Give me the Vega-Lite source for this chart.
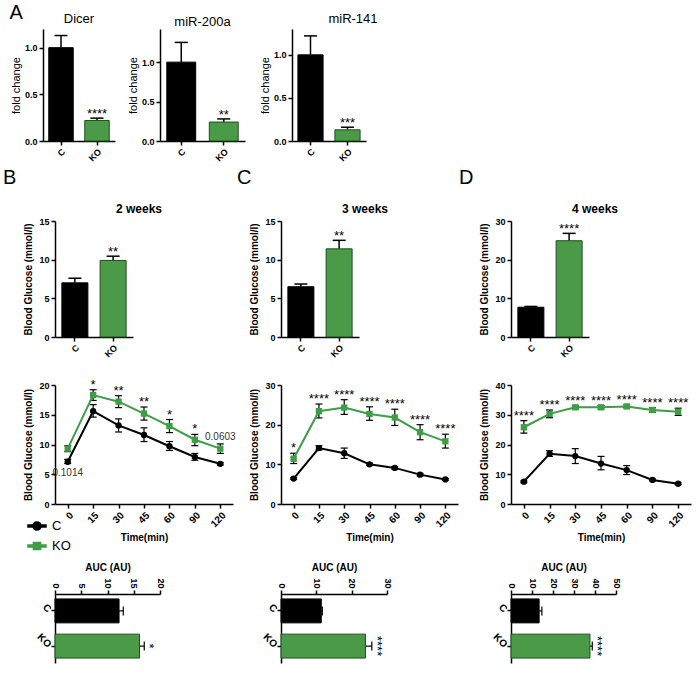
{
"$schema": "https://vega.github.io/schema/vega-lite/v6.json",
"padding": {"left": 2, "top": 2, "right": 2, "bottom": 2},
"datasets": {
"fold": [
{"gene":"Dicer","group":"C","value":1.0,"hi":1.13,"sig":""},
{"gene":"Dicer","group":"KO","value":0.22,"hi":0.245,"sig":"****"},
{"gene":"miR-200a","group":"C","value":1.0,"hi":1.25,"sig":""},
{"gene":"miR-200a","group":"KO","value":0.24,"hi":0.28,"sig":"**"},
{"gene":"miR-141","group":"C","value":1.0,"hi":1.22,"sig":""},
{"gene":"miR-141","group":"KO","value":0.13,"hi":0.16,"sig":"***"}
],
"bg": [
{"week":2,"group":"C","value":7.0,"hi":7.6,"sig":""},
{"week":2,"group":"KO","value":9.9,"hi":10.45,"sig":"**"},
{"week":3,"group":"C","value":6.5,"hi":6.85,"sig":""},
{"week":3,"group":"KO","value":11.4,"hi":12.5,"sig":"**"},
{"week":4,"group":"C","value":7.7,"hi":7.9,"sig":""},
{"week":4,"group":"KO","value":24.9,"hi":26.8,"sig":"****"}
],
"ogtt": [
{"week":2,"group":"KO","time":0,"mean":9.3,"lo":8.8,"hi":9.8,"sig":"","note":""},
{"week":2,"group":"KO","time":15,"mean":18.3,"lo":17.4,"hi":19.2,"sig":"*","note":""},
{"week":2,"group":"KO","time":30,"mean":17.2,"lo":16.2,"hi":18.2,"sig":"**","note":""},
{"week":2,"group":"KO","time":45,"mean":15.2,"lo":14.1,"hi":16.3,"sig":"**","note":""},
{"week":2,"group":"KO","time":60,"mean":13.1,"lo":12.0,"hi":14.2,"sig":"*","note":""},
{"week":2,"group":"KO","time":90,"mean":10.8,"lo":9.8,"hi":11.7,"sig":"*","note":""},
{"week":2,"group":"KO","time":120,"mean":9.3,"lo":8.5,"hi":10.1,"sig":"","note":"0.0603"},
{"week":2,"group":"C","time":0,"mean":7.1,"lo":6.8,"hi":7.5,"sig":"","note":"0.1014"},
{"week":2,"group":"C","time":15,"mean":15.6,"lo":14.6,"hi":16.7,"sig":"","note":""},
{"week":2,"group":"C","time":30,"mean":13.2,"lo":12.1,"hi":14.3,"sig":"","note":""},
{"week":2,"group":"C","time":45,"mean":11.6,"lo":10.5,"hi":12.8,"sig":"","note":""},
{"week":2,"group":"C","time":60,"mean":9.7,"lo":9.0,"hi":10.5,"sig":"","note":""},
{"week":2,"group":"C","time":90,"mean":7.9,"lo":7.35,"hi":8.5,"sig":"","note":""},
{"week":2,"group":"C","time":120,"mean":6.75,"lo":6.55,"hi":6.95,"sig":"","note":""},
{"week":3,"group":"KO","time":0,"mean":11.4,"lo":10.2,"hi":12.8,"sig":"*","note":""},
{"week":3,"group":"KO","time":15,"mean":23.4,"lo":21.7,"hi":25.2,"sig":"****","note":""},
{"week":3,"group":"KO","time":30,"mean":24.3,"lo":22.6,"hi":26.3,"sig":"****","note":""},
{"week":3,"group":"KO","time":45,"mean":22.7,"lo":21.1,"hi":24.5,"sig":"****","note":""},
{"week":3,"group":"KO","time":60,"mean":21.8,"lo":19.8,"hi":23.9,"sig":"****","note":""},
{"week":3,"group":"KO","time":90,"mean":18.1,"lo":16.2,"hi":20.0,"sig":"****","note":""},
{"week":3,"group":"KO","time":120,"mean":15.8,"lo":14.1,"hi":17.6,"sig":"****","note":""},
{"week":3,"group":"C","time":0,"mean":6.4,"lo":6.2,"hi":6.6,"sig":"","note":""},
{"week":3,"group":"C","time":15,"mean":14.1,"lo":13.6,"hi":14.7,"sig":"","note":""},
{"week":3,"group":"C","time":30,"mean":12.8,"lo":11.5,"hi":14.1,"sig":"","note":""},
{"week":3,"group":"C","time":45,"mean":10.0,"lo":9.7,"hi":10.3,"sig":"","note":""},
{"week":3,"group":"C","time":60,"mean":9.1,"lo":8.8,"hi":9.4,"sig":"","note":""},
{"week":3,"group":"C","time":90,"mean":7.4,"lo":7.1,"hi":7.7,"sig":"","note":""},
{"week":3,"group":"C","time":120,"mean":6.2,"lo":6.0,"hi":6.4,"sig":"","note":""},
{"week":4,"group":"KO","time":0,"mean":25.8,"lo":23.8,"hi":28.0,"sig":"****","note":""},
{"week":4,"group":"KO","time":15,"mean":30.3,"lo":29.0,"hi":31.6,"sig":"****","note":""},
{"week":4,"group":"KO","time":30,"mean":32.5,"lo":32.0,"hi":33.0,"sig":"****","note":""},
{"week":4,"group":"KO","time":45,"mean":32.5,"lo":31.9,"hi":33.1,"sig":"****","note":""},
{"week":4,"group":"KO","time":60,"mean":32.8,"lo":32.3,"hi":33.3,"sig":"****","note":""},
{"week":4,"group":"KO","time":90,"mean":31.6,"lo":30.8,"hi":32.4,"sig":"****","note":""},
{"week":4,"group":"KO","time":120,"mean":31.0,"lo":29.8,"hi":32.2,"sig":"****","note":""},
{"week":4,"group":"C","time":0,"mean":7.5,"lo":7.2,"hi":7.8,"sig":"","note":""},
{"week":4,"group":"C","time":15,"mean":16.9,"lo":16.0,"hi":17.9,"sig":"","note":""},
{"week":4,"group":"C","time":30,"mean":16.1,"lo":13.6,"hi":18.6,"sig":"","note":""},
{"week":4,"group":"C","time":45,"mean":13.6,"lo":11.5,"hi":16.0,"sig":"","note":""},
{"week":4,"group":"C","time":60,"mean":11.4,"lo":9.9,"hi":12.9,"sig":"","note":""},
{"week":4,"group":"C","time":90,"mean":8.1,"lo":7.8,"hi":8.4,"sig":"","note":""},
{"week":4,"group":"C","time":120,"mean":6.8,"lo":6.5,"hi":7.1,"sig":"","note":""}
],
"auc": [
{"week":2,"group":"C","value":12.2,"hi":13.0,"sig":""},
{"week":2,"group":"KO","value":16.1,"hi":17.0,"sig":"*"},
{"week":3,"group":"C","value":11.4,"hi":11.7,"sig":""},
{"week":3,"group":"KO","value":23.9,"hi":25.7,"sig":"****"},
{"week":4,"group":"C","value":13.4,"hi":14.7,"sig":""},
{"week":4,"group":"KO","value":37.6,"hi":38.7,"sig":"****"}
]
},
"resolve": {"scale": {"color": "independent", "stroke": "independent"}, "legend": {"color": "independent", "stroke": "independent"}},
"columns": 1,
"align": "none",
"spacing": 5,
"concat": [
{
"title": {"text": "A", "anchor": "start", "fontSize": 20, "fontWeight": "normal", "dx": -1, "dy": 10, "offset": 0},
"bounds": "flush",
"spacing": 45,
"resolve": {"scale": {"color": "independent", "stroke": "independent"}, "legend": {"color": "independent", "stroke": "independent"}},
"hconcat": [
{
"width": 72, "height": 112,
"title": {"text": "Dicer", "fontSize": 13, "fontWeight": "normal", "frame": "group", "offset": 0, "dx": -12},
"data": {"name": "fold"},
"transform": [{"filter": "datum.gene === 'Dicer'"}],
"encoding": {"x": {"field": "group", "type": "nominal", "sort": ["C","KO"], "scale": {"range": [-12, 60], "paddingInner": 0.32, "paddingOuter": 0.16}, "axis": {"title": null, "labelAngle": -45}}},
"layer": [
{"mark": {"type": "rule", "color": "#000", "strokeWidth": 1.5}, "encoding": {"y": {"field": "value", "type": "quantitative", "scale": {"domain": [0, 1.2], "nice": false}, "axis": {"offset": 12, "title": "fold change", "titleFontWeight": "normal", "titleFontSize": 11, "titlePadding": 3, "values": [0, 0.5, 1], "tickCount": 10, "format": ".1f"}}, "y2": {"field": "hi"}}},
{"mark": {"type": "tick", "color": "#000", "thickness": 1.5, "size": 13, "opacity": 1}, "encoding": {"y": {"field": "hi", "type": "quantitative"}}},
{"mark": {"type": "bar", "strokeWidth": 1, "opacity": 1}, "encoding": {"y": {"field": "value", "type": "quantitative"}, "color": {"field": "group", "type": "nominal", "scale": {"domain": ["C","KO"], "range": ["#000000","#4a9a48"]}, "legend": null}, "stroke": {"field": "group", "type": "nominal", "scale": {"domain": ["C","KO"], "range": ["#000000","#1f4f1f"]}, "legend": null}}},
{"mark": {"type": "text", "fontSize": 13, "baseline": "middle", "dy": -4}, "encoding": {"y": {"field": "hi", "type": "quantitative"}, "text": {"field": "sig"}}}
]
},
{
"width": 85, "height": 112,
"title": {"text": "miR-200a", "fontSize": 13, "fontWeight": "normal", "frame": "group", "offset": 0, "dx": -12},
"data": {"name": "fold"},
"transform": [{"filter": "datum.gene === 'miR-200a'"}],
"encoding": {"x": {"field": "group", "type": "nominal", "sort": ["C","KO"], "scale": {"range": [-12, 73], "paddingInner": 0.32, "paddingOuter": 0.16}, "axis": {"title": null, "labelAngle": -45}}},
"layer": [
{"mark": {"type": "rule", "color": "#000", "strokeWidth": 1.5}, "encoding": {"y": {"field": "value", "type": "quantitative", "scale": {"domain": [0, 1.42], "nice": false}, "axis": {"offset": 12, "title": "fold change", "titleFontWeight": "normal", "titleFontSize": 11, "titlePadding": 3, "values": [0, 0.5, 1], "tickCount": 10, "format": ".1f"}}, "y2": {"field": "hi"}}},
{"mark": {"type": "tick", "color": "#000", "thickness": 1.5, "size": 13, "opacity": 1}, "encoding": {"y": {"field": "hi", "type": "quantitative"}}},
{"mark": {"type": "bar", "strokeWidth": 1, "opacity": 1}, "encoding": {"y": {"field": "value", "type": "quantitative"}, "color": {"field": "group", "type": "nominal", "scale": {"domain": ["C","KO"], "range": ["#000000","#4a9a48"]}, "legend": null}, "stroke": {"field": "group", "type": "nominal", "scale": {"domain": ["C","KO"], "range": ["#000000","#1f4f1f"]}, "legend": null}}},
{"mark": {"type": "text", "fontSize": 13, "baseline": "middle", "dy": -4}, "encoding": {"y": {"field": "hi", "type": "quantitative"}, "text": {"field": "sig"}}}
]
},
{
"width": 74, "height": 112,
"title": {"text": "miR-141", "fontSize": 13, "fontWeight": "normal", "frame": "group", "offset": 0, "dx": 14},
"data": {"name": "fold"},
"transform": [{"filter": "datum.gene === 'miR-141'"}],
"encoding": {"x": {"field": "group", "type": "nominal", "sort": ["C","KO"], "scale": {"range": [-10, 64], "paddingInner": 0.32, "paddingOuter": 0.16}, "axis": {"title": null, "labelAngle": -45}}},
"layer": [
{"mark": {"type": "rule", "color": "#000", "strokeWidth": 1.5}, "encoding": {"y": {"field": "value", "type": "quantitative", "scale": {"domain": [0, 1.3], "nice": false}, "axis": {"offset": 10, "title": "fold change", "titleFontWeight": "normal", "titleFontSize": 11, "titlePadding": 3, "values": [0, 0.5, 1], "tickCount": 10, "format": ".1f"}}, "y2": {"field": "hi"}}},
{"mark": {"type": "tick", "color": "#000", "thickness": 1.5, "size": 13, "opacity": 1}, "encoding": {"y": {"field": "hi", "type": "quantitative"}}},
{"mark": {"type": "bar", "strokeWidth": 1, "opacity": 1}, "encoding": {"y": {"field": "value", "type": "quantitative"}, "color": {"field": "group", "type": "nominal", "scale": {"domain": ["C","KO"], "range": ["#000000","#4a9a48"]}, "legend": null}, "stroke": {"field": "group", "type": "nominal", "scale": {"domain": ["C","KO"], "range": ["#000000","#1f4f1f"]}, "legend": null}}},
{"mark": {"type": "text", "fontSize": 13, "baseline": "middle", "dy": -4}, "encoding": {"y": {"field": "hi", "type": "quantitative"}, "text": {"field": "sig"}}}
]
}
]
},
{
"spacing": 0,
"resolve": {"scale": {"color": "independent", "stroke": "independent"}, "legend": {"color": "independent", "stroke": "independent"}},
"hconcat": [
{
"title": {"text": "B", "anchor": "start", "fontSize": 20, "fontWeight": "normal", "dx": -21, "offset": 15},
"bounds": "flush",
"spacing": 48,
"resolve": {"scale": {"color": "independent", "stroke": "independent"}, "legend": {"color": "independent", "stroke": "independent"}},
"vconcat": [
{
"width": 78, "height": 116,
"title": {"text": "2 weeks", "fontSize": 12, "fontWeight": "bold", "frame": "group", "dx": 45, "offset": 1},
"data": {"name": "bg"},
"transform": [{"filter": "datum.week === 2"}],
"encoding": {"x": {"field": "group", "type": "nominal", "sort": ["C","KO"], "scale": {"paddingInner": 0.32, "paddingOuter": 0.18}, "axis": {"title": null, "labelAngle": -45}}},
"layer": [
{"mark": {"type": "rule", "color": "#000", "strokeWidth": 1.5}, "encoding": {"y": {"field": "value", "type": "quantitative", "scale": {"domain": [0, 15], "nice": false}, "axis": {"title": "Blood Glucose (mmol/l)", "values": [0, 5, 10, 15], "tickCount": 10}}, "y2": {"field": "hi"}}},
{"mark": {"type": "tick", "color": "#000", "thickness": 1.5, "size": 13, "opacity": 1}, "encoding": {"y": {"field": "hi", "type": "quantitative"}}},
{"mark": {"type": "bar", "strokeWidth": 1, "opacity": 1}, "encoding": {"y": {"field": "value", "type": "quantitative"}, "color": {"field": "group", "type": "nominal", "scale": {"domain": ["C","KO"], "range": ["#000000","#4a9a48"]}, "legend": null}, "stroke": {"field": "group", "type": "nominal", "scale": {"domain": ["C","KO"], "range": ["#000000","#1f4f1f"]}, "legend": null}}},
{"mark": {"type": "text", "fontSize": 13, "baseline": "middle", "dy": -4}, "encoding": {"y": {"field": "hi", "type": "quantitative"}, "text": {"field": "sig"}}}
]
},
{
"width": 178, "height": 119,
"data": {"name": "ogtt"},
"transform": [{"filter": "datum.week === 2"}],
"encoding": {"x": {"field": "time", "type": "ordinal", "scale": {"type": "point", "padding": 0.5}, "axis": {"title": "Time(min)", "labelAngle": -45, "labelFontSize": 10, "titlePadding": 4}}},
"layer": [
{"mark": {"type": "rule", "color": "#000", "strokeWidth": 1.2}, "encoding": {"y": {"field": "lo", "type": "quantitative", "scale": {"domain": [0, 20], "nice": false}, "axis": {"title": "Blood Glucose (mmol/l)", "values": [0, 5, 10, 15, 20], "tickCount": 10}}, "y2": {"field": "hi"}}},
{"mark": {"type": "tick", "color": "#000", "thickness": 1.2, "size": 7, "opacity": 1}, "encoding": {"y": {"field": "lo", "type": "quantitative"}}},
{"mark": {"type": "tick", "color": "#000", "thickness": 1.2, "size": 7, "opacity": 1}, "encoding": {"y": {"field": "hi", "type": "quantitative"}}},
{"mark": {"type": "line", "strokeWidth": 2}, "encoding": {"y": {"field": "mean", "type": "quantitative"}, "color": {"field": "group", "type": "nominal", "scale": {"domain": ["C","KO"], "range": ["#000000","#3d9e45"]}, "legend": {"orient": "none", "legendX": -28, "legendY": 131, "title": null, "labelFontSize": 13, "labelFontWeight": "normal", "labelFont": "Liberation Sans", "labelColor": "#000", "symbolSize": 324, "rowPadding": 2, "labelOffset": 5, "padding": 0, "encode": {"symbols": {"update": {"shape": {"signal": "datum.value === 'C' ? 'M-1,-0.1H1V0.1H-1ZM0.45,0A0.45,0.45,0,1,1,-0.45,0A0.45,0.45,0,1,1,0.45,0Z' : 'M-1,-0.1H1V0.1H-1ZM-0.4,-0.4H0.4V0.4H-0.4Z'"}, "fill": {"signal": "datum.value === 'C' ? '#000000' : '#3d9e45'"}, "stroke": {"value": "transparent"}, "opacity": {"value": 1}}}}}}}},
{"transform": [{"filter": "datum.group === 'C'"}], "mark": {"type": "point", "shape": "circle", "filled": true, "size": 40, "opacity": 1}, "encoding": {"y": {"field": "mean", "type": "quantitative"}, "color": {"field": "group", "type": "nominal", "scale": {"domain": ["C","KO"], "range": ["#000000","#3d9e45"]}, "legend": null}}},
{"transform": [{"filter": "datum.group === 'KO'"}], "mark": {"type": "point", "shape": "square", "filled": true, "size": 40, "opacity": 1}, "encoding": {"y": {"field": "mean", "type": "quantitative"}, "color": {"field": "group", "type": "nominal", "scale": {"domain": ["C","KO"], "range": ["#000000","#3d9e45"]}, "legend": null}}},
{"mark": {"type": "text", "fontSize": 13, "baseline": "middle", "dy": -5}, "encoding": {"y": {"field": "hi", "type": "quantitative"}, "text": {"field": "sig"}}},
{"transform": [{"filter": "datum.group === 'KO'"}], "mark": {"type": "text", "fontSize": 10, "baseline": "middle", "dy": -7, "color": "#333"}, "encoding": {"y": {"field": "hi", "type": "quantitative"}, "text": {"field": "note"}}},
{"transform": [{"filter": "datum.group === 'C'"}], "mark": {"type": "text", "fontSize": 10, "baseline": "middle", "dy": 9, "color": "#333"}, "encoding": {"y": {"field": "lo", "type": "quantitative"}, "text": {"field": "note"}}}
]
},
{
"width": 105, "height": 111,
"data": {"name": "auc"},
"transform": [{"filter": "datum.week === 2"}],
"encoding": {"y": {"field": "group", "type": "nominal", "sort": ["C","KO"], "scale": {"range": [42, 111], "paddingInner": 0.32, "paddingOuter": 0.14}, "axis": {"title": null, "labelAngle": 45, "labelFontSize": 10}}},
"layer": [
{"mark": {"type": "rule", "color": "#000", "strokeWidth": 1.2}, "encoding": {"x": {"field": "value", "type": "quantitative", "scale": {"domain": [0, 20], "nice": false}, "axis": {"orient": "top", "offset": -42, "title": "AUC (AU)", "labelAngle": 90, "labelAlign": "right", "labelBaseline": "middle", "values": [0, 5, 10, 15, 20], "tickCount": 10}}, "x2": {"field": "hi"}}},
{"mark": {"type": "tick", "color": "#000", "thickness": 1.2, "size": 9, "opacity": 1}, "encoding": {"x": {"field": "hi", "type": "quantitative"}}},
{"mark": {"type": "bar", "strokeWidth": 1, "opacity": 1}, "encoding": {"x": {"field": "value", "type": "quantitative"}, "color": {"field": "group", "type": "nominal", "scale": {"domain": ["C","KO"], "range": ["#000000","#4a9a48"]}, "legend": null}, "stroke": {"field": "group", "type": "nominal", "scale": {"domain": ["C","KO"], "range": ["#000000","#1f4f1f"]}, "legend": null}}},
{"mark": {"type": "text", "fontSize": 13, "angle": 90, "align": "center", "baseline": "middle", "dy": -5}, "encoding": {"x": {"field": "hi", "type": "quantitative"}, "text": {"field": "sig"}}}
]
}
]
},
{
"title": {"text": "C", "anchor": "start", "fontSize": 20, "fontWeight": "normal", "dx": -13, "offset": 15},
"bounds": "flush",
"spacing": 48,
"resolve": {"scale": {"color": "independent", "stroke": "independent"}, "legend": {"color": "independent", "stroke": "independent"}},
"vconcat": [
{
"width": 78, "height": 116,
"title": {"text": "3 weeks", "fontSize": 12, "fontWeight": "bold", "frame": "group", "dx": 45, "offset": 1},
"data": {"name": "bg"},
"transform": [{"filter": "datum.week === 3"}],
"encoding": {"x": {"field": "group", "type": "nominal", "sort": ["C","KO"], "scale": {"paddingInner": 0.32, "paddingOuter": 0.18}, "axis": {"title": null, "labelAngle": -45}}},
"layer": [
{"mark": {"type": "rule", "color": "#000", "strokeWidth": 1.5}, "encoding": {"y": {"field": "value", "type": "quantitative", "scale": {"domain": [0, 15], "nice": false}, "axis": {"title": "Blood Glucose (mmol/l)", "values": [0, 5, 10, 15], "tickCount": 10}}, "y2": {"field": "hi"}}},
{"mark": {"type": "tick", "color": "#000", "thickness": 1.5, "size": 13, "opacity": 1}, "encoding": {"y": {"field": "hi", "type": "quantitative"}}},
{"mark": {"type": "bar", "strokeWidth": 1, "opacity": 1}, "encoding": {"y": {"field": "value", "type": "quantitative"}, "color": {"field": "group", "type": "nominal", "scale": {"domain": ["C","KO"], "range": ["#000000","#4a9a48"]}, "legend": null}, "stroke": {"field": "group", "type": "nominal", "scale": {"domain": ["C","KO"], "range": ["#000000","#1f4f1f"]}, "legend": null}}},
{"mark": {"type": "text", "fontSize": 13, "baseline": "middle", "dy": -4}, "encoding": {"y": {"field": "hi", "type": "quantitative"}, "text": {"field": "sig"}}}
]
},
{
"width": 177, "height": 119,
"data": {"name": "ogtt"},
"transform": [{"filter": "datum.week === 3"}],
"encoding": {"x": {"field": "time", "type": "ordinal", "scale": {"type": "point", "padding": 0.5}, "axis": {"title": "Time(min)", "labelAngle": -45, "labelFontSize": 10, "titlePadding": 4}}},
"layer": [
{"mark": {"type": "rule", "color": "#000", "strokeWidth": 1.2}, "encoding": {"y": {"field": "lo", "type": "quantitative", "scale": {"domain": [0, 30], "nice": false}, "axis": {"title": "Blood Glucose (mmol/l)", "values": [0, 10, 20, 30], "tickCount": 10}}, "y2": {"field": "hi"}}},
{"mark": {"type": "tick", "color": "#000", "thickness": 1.2, "size": 7, "opacity": 1}, "encoding": {"y": {"field": "lo", "type": "quantitative"}}},
{"mark": {"type": "tick", "color": "#000", "thickness": 1.2, "size": 7, "opacity": 1}, "encoding": {"y": {"field": "hi", "type": "quantitative"}}},
{"mark": {"type": "line", "strokeWidth": 2}, "encoding": {"y": {"field": "mean", "type": "quantitative"}, "color": {"field": "group", "type": "nominal", "scale": {"domain": ["C","KO"], "range": ["#000000","#3d9e45"]}, "legend": null}}},
{"transform": [{"filter": "datum.group === 'C'"}], "mark": {"type": "point", "shape": "circle", "filled": true, "size": 40, "opacity": 1}, "encoding": {"y": {"field": "mean", "type": "quantitative"}, "color": {"field": "group", "type": "nominal", "scale": {"domain": ["C","KO"], "range": ["#000000","#3d9e45"]}, "legend": null}}},
{"transform": [{"filter": "datum.group === 'KO'"}], "mark": {"type": "point", "shape": "square", "filled": true, "size": 40, "opacity": 1}, "encoding": {"y": {"field": "mean", "type": "quantitative"}, "color": {"field": "group", "type": "nominal", "scale": {"domain": ["C","KO"], "range": ["#000000","#3d9e45"]}, "legend": null}}},
{"mark": {"type": "text", "fontSize": 13, "baseline": "middle", "dy": -5}, "encoding": {"y": {"field": "hi", "type": "quantitative"}, "text": {"field": "sig"}}}
]
},
{
"width": 106, "height": 111,
"data": {"name": "auc"},
"transform": [{"filter": "datum.week === 3"}],
"encoding": {"y": {"field": "group", "type": "nominal", "sort": ["C","KO"], "scale": {"range": [42, 111], "paddingInner": 0.32, "paddingOuter": 0.14}, "axis": {"title": null, "labelAngle": 45, "labelFontSize": 10}}},
"layer": [
{"mark": {"type": "rule", "color": "#000", "strokeWidth": 1.2}, "encoding": {"x": {"field": "value", "type": "quantitative", "scale": {"domain": [0, 30], "nice": false}, "axis": {"orient": "top", "offset": -42, "title": "AUC (AU)", "labelAngle": 90, "labelAlign": "right", "labelBaseline": "middle", "values": [0, 10, 20, 30], "tickCount": 10}}, "x2": {"field": "hi"}}},
{"mark": {"type": "tick", "color": "#000", "thickness": 1.2, "size": 9, "opacity": 1}, "encoding": {"x": {"field": "hi", "type": "quantitative"}}},
{"mark": {"type": "bar", "strokeWidth": 1, "opacity": 1}, "encoding": {"x": {"field": "value", "type": "quantitative"}, "color": {"field": "group", "type": "nominal", "scale": {"domain": ["C","KO"], "range": ["#000000","#4a9a48"]}, "legend": null}, "stroke": {"field": "group", "type": "nominal", "scale": {"domain": ["C","KO"], "range": ["#000000","#1f4f1f"]}, "legend": null}}},
{"mark": {"type": "text", "fontSize": 13, "angle": 90, "align": "center", "baseline": "middle", "dy": -5}, "encoding": {"x": {"field": "hi", "type": "quantitative"}, "text": {"field": "sig"}}}
]
}
]
},
{
"title": {"text": "D", "anchor": "start", "fontSize": 20, "fontWeight": "normal", "dx": -21, "offset": 15},
"bounds": "flush",
"spacing": 48,
"resolve": {"scale": {"color": "independent", "stroke": "independent"}, "legend": {"color": "independent", "stroke": "independent"}},
"vconcat": [
{
"width": 78, "height": 116,
"title": {"text": "4 weeks", "fontSize": 12, "fontWeight": "bold", "frame": "group", "dx": 45, "offset": 1},
"data": {"name": "bg"},
"transform": [{"filter": "datum.week === 4"}],
"encoding": {"x": {"field": "group", "type": "nominal", "sort": ["C","KO"], "scale": {"paddingInner": 0.32, "paddingOuter": 0.18}, "axis": {"title": null, "labelAngle": -45}}},
"layer": [
{"mark": {"type": "rule", "color": "#000", "strokeWidth": 1.5}, "encoding": {"y": {"field": "value", "type": "quantitative", "scale": {"domain": [0, 30], "nice": false}, "axis": {"title": "Blood Glucose (mmol/l)", "values": [0, 10, 20, 30], "tickCount": 10}}, "y2": {"field": "hi"}}},
{"mark": {"type": "tick", "color": "#000", "thickness": 1.5, "size": 13, "opacity": 1}, "encoding": {"y": {"field": "hi", "type": "quantitative"}}},
{"mark": {"type": "bar", "strokeWidth": 1, "opacity": 1}, "encoding": {"y": {"field": "value", "type": "quantitative"}, "color": {"field": "group", "type": "nominal", "scale": {"domain": ["C","KO"], "range": ["#000000","#4a9a48"]}, "legend": null}, "stroke": {"field": "group", "type": "nominal", "scale": {"domain": ["C","KO"], "range": ["#000000","#1f4f1f"]}, "legend": null}}},
{"mark": {"type": "text", "fontSize": 13, "baseline": "middle", "dy": -4}, "encoding": {"y": {"field": "hi", "type": "quantitative"}, "text": {"field": "sig"}}}
]
},
{
"width": 180, "height": 119,
"data": {"name": "ogtt"},
"transform": [{"filter": "datum.week === 4"}],
"encoding": {"x": {"field": "time", "type": "ordinal", "scale": {"type": "point", "padding": 0.5}, "axis": {"title": "Time(min)", "labelAngle": -45, "labelFontSize": 10, "titlePadding": 4}}},
"layer": [
{"mark": {"type": "rule", "color": "#000", "strokeWidth": 1.2}, "encoding": {"y": {"field": "lo", "type": "quantitative", "scale": {"domain": [0, 40], "nice": false}, "axis": {"title": "Blood Glucose (mmol/l)", "values": [0, 10, 20, 30, 40], "tickCount": 10}}, "y2": {"field": "hi"}}},
{"mark": {"type": "tick", "color": "#000", "thickness": 1.2, "size": 7, "opacity": 1}, "encoding": {"y": {"field": "lo", "type": "quantitative"}}},
{"mark": {"type": "tick", "color": "#000", "thickness": 1.2, "size": 7, "opacity": 1}, "encoding": {"y": {"field": "hi", "type": "quantitative"}}},
{"mark": {"type": "line", "strokeWidth": 2}, "encoding": {"y": {"field": "mean", "type": "quantitative"}, "color": {"field": "group", "type": "nominal", "scale": {"domain": ["C","KO"], "range": ["#000000","#3d9e45"]}, "legend": null}}},
{"transform": [{"filter": "datum.group === 'C'"}], "mark": {"type": "point", "shape": "circle", "filled": true, "size": 40, "opacity": 1}, "encoding": {"y": {"field": "mean", "type": "quantitative"}, "color": {"field": "group", "type": "nominal", "scale": {"domain": ["C","KO"], "range": ["#000000","#3d9e45"]}, "legend": null}}},
{"transform": [{"filter": "datum.group === 'KO'"}], "mark": {"type": "point", "shape": "square", "filled": true, "size": 40, "opacity": 1}, "encoding": {"y": {"field": "mean", "type": "quantitative"}, "color": {"field": "group", "type": "nominal", "scale": {"domain": ["C","KO"], "range": ["#000000","#3d9e45"]}, "legend": null}}},
{"mark": {"type": "text", "fontSize": 13, "baseline": "middle", "dy": -5}, "encoding": {"y": {"field": "hi", "type": "quantitative"}, "text": {"field": "sig"}}}
]
},
{
"width": 105, "height": 111,
"data": {"name": "auc"},
"transform": [{"filter": "datum.week === 4"}],
"encoding": {"y": {"field": "group", "type": "nominal", "sort": ["C","KO"], "scale": {"range": [42, 111], "paddingInner": 0.32, "paddingOuter": 0.14}, "axis": {"title": null, "labelAngle": 45, "labelFontSize": 10}}},
"layer": [
{"mark": {"type": "rule", "color": "#000", "strokeWidth": 1.2}, "encoding": {"x": {"field": "value", "type": "quantitative", "scale": {"domain": [0, 50], "nice": false}, "axis": {"orient": "top", "offset": -42, "title": "AUC (AU)", "labelAngle": 90, "labelAlign": "right", "labelBaseline": "middle", "values": [0, 10, 20, 30, 40, 50], "tickCount": 10}}, "x2": {"field": "hi"}}},
{"mark": {"type": "tick", "color": "#000", "thickness": 1.2, "size": 9, "opacity": 1}, "encoding": {"x": {"field": "hi", "type": "quantitative"}}},
{"mark": {"type": "bar", "strokeWidth": 1, "opacity": 1}, "encoding": {"x": {"field": "value", "type": "quantitative"}, "color": {"field": "group", "type": "nominal", "scale": {"domain": ["C","KO"], "range": ["#000000","#4a9a48"]}, "legend": null}, "stroke": {"field": "group", "type": "nominal", "scale": {"domain": ["C","KO"], "range": ["#000000","#1f4f1f"]}, "legend": null}}},
{"mark": {"type": "text", "fontSize": 13, "angle": 90, "align": "center", "baseline": "middle", "dy": -5}, "encoding": {"x": {"field": "hi", "type": "quantitative"}, "text": {"field": "sig"}}}
]
}
]
}
]
}
],
"config": {
"font": "Liberation Sans",
"view": {"stroke": null},
"axis": {"labelFont": "Liberation Sans", "labelFontWeight": "bold", "labelFontSize": 9, "labelColor": "#000", "labelOverlap": false, "titleFont": "Liberation Sans", "titleFontWeight": "bold", "titleFontSize": 10, "titleColor": "#000", "domainColor": "#000", "domainWidth": 1.5, "tickColor": "#000", "tickWidth": 1.5, "tickSize": 4, "grid": false, "labelPadding": 2, "titlePadding": 5},
"title": {"font": "Liberation Sans", "color": "#000"},
"text": {"font": "Liberation Sans", "color": "#000"}
}
}
